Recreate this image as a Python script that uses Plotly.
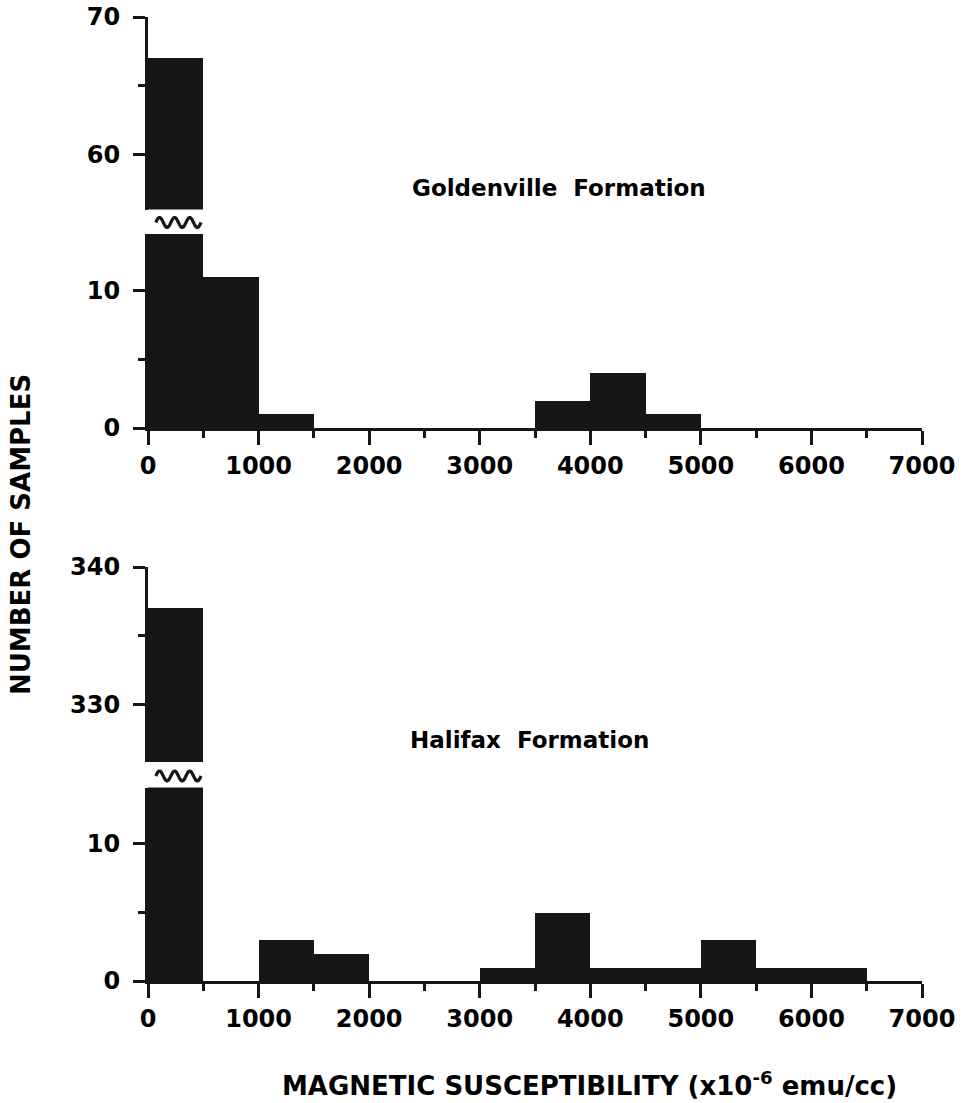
import numpy as np
import plotly.graph_objects as go

# ---------------- data ----------------
bin_left = [0, 500, 1000, 1500, 2000, 2500, 3000, 3500, 4000, 4500, 5000, 5500, 6000, 6500]
bin_width = 500
goldenville_counts = [67, 11, 1, 0, 0, 0, 0, 2, 4, 1, 0, 0, 0, 0]
halifax_counts = [337, 0, 3, 2, 0, 0, 1, 5, 1, 1, 3, 1, 1, 0]
x_tick_vals = [0, 1000, 2000, 3000, 4000, 5000, 6000, 7000]
x_tick_text = ["0", "1000", "2000", "3000", "4000", "5000", "6000", "7000"]
gold_low_ticks = [0, 10]
gold_high_ticks = [60, 70]
hal_low_ticks = [0, 10]
hal_high_ticks = [330, 340]

# ---------------- layout geometry (pixels) ----------------
W, H = 978, 1103
ML, MR, MT, MB = 148, 56, 17, 122
PH = H - MT - MB
PW = W - ML - MR
PX_PER_UNIT = 13.75


def frac(ypx):
    return (H - MB - ypx) / PH


def xfrac(xpx):
    return (xpx - ML) / PW


# top panel
g_low_zero = 428.0
g_low_top = 234.0
g_high_top_val = 70
g_high_bottom = 209.5
# bottom panel
h_low_zero = 981.0
h_low_top = 787.5
h_high_top_val = 340
h_high_top_px = 567.0
h_high_bottom = 762.0

dom_y = [frac(g_low_zero), frac(g_low_top)]
rng_y = [0, (g_low_zero - g_low_top) / PX_PER_UNIT]
dom_y2 = [frac(g_high_bottom), 1.0]
rng_y2 = [g_high_top_val - (g_high_bottom - MT) / PX_PER_UNIT, g_high_top_val]
dom_y3 = [frac(h_low_zero), frac(h_low_top)]
rng_y3 = [0, (h_low_zero - h_low_top) / PX_PER_UNIT]
dom_y4 = [frac(h_high_bottom), frac(h_high_top_px)]
rng_y4 = [h_high_top_val - (h_high_bottom - h_high_top_px) / PX_PER_UNIT, h_high_top_val]

BAR = "#161616"
FONT = "DejaVu Sans"

centers = [b + bin_width / 2 for b in bin_left]

fig = go.Figure()
for xa, ya, counts in [("x", "y", goldenville_counts), ("x", "y2", goldenville_counts),
                       ("x2", "y3", halifax_counts), ("x2", "y4", halifax_counts)]:
    fig.add_trace(go.Bar(x=centers, y=counts, width=bin_width, xaxis=xa, yaxis=ya,
                         marker=dict(color=BAR, line=dict(width=0)),
                         showlegend=False, hoverinfo="x+y"))

tickfont = dict(family=FONT, size=24, color="black", weight="bold")

xcommon = dict(range=[0, 7000], domain=[0, 1], showgrid=False, zeroline=False,
               showline=True, linewidth=3, linecolor=BAR, automargin=False,
               ticks="outside", ticklen=14, tickwidth=2.5, tickcolor=BAR,
               tickvals=x_tick_vals, ticktext=x_tick_text, tickfont=tickfont,
               minor=dict(dtick=500, tick0=0, ticks="outside", ticklen=7, tickwidth=2.5, tickcolor=BAR))


def ycommon(dom, rng, vals, anchor):
    minor_vals = [(vals[0] + vals[1]) / 2]
    return dict(domain=dom, range=rng, anchor=anchor, showgrid=False, zeroline=False,
                showline=True, linewidth=3, linecolor=BAR, automargin=False,
                ticks="outside", ticklen=12, tickwidth=2.5, tickcolor=BAR,
                tickvals=vals, ticktext=[str(v) for v in vals], tickfont=tickfont,
                ticklabelstandoff=8,
                minor=dict(tickvals=minor_vals, ticks="outside", ticklen=7, tickwidth=2.5, tickcolor=BAR))


fig.update_layout(
    width=W, height=H,
    margin=dict(l=ML, r=MR, t=MT, b=MB, autoexpand=False),
    paper_bgcolor="white", plot_bgcolor="white",
    bargap=0,
    xaxis=dict(anchor="y", **xcommon),
    xaxis2=dict(anchor="y3", **xcommon),
    yaxis=ycommon(dom_y, rng_y, gold_low_ticks, "x"),
    yaxis2=ycommon(dom_y2, rng_y2, gold_high_ticks, "x"),
    yaxis3=ycommon(dom_y3, rng_y3, hal_low_ticks, "x2"),
    yaxis4=ycommon(dom_y4, rng_y4, hal_high_ticks, "x2"),
)


# break (wavy) symbols between the axis segments
def wave_path(ycenter_px, amp_px=5.0, x0=70, x1=480, n_waves=3):
    t = np.linspace(0, 1, 121)
    xs = x0 + (x1 - x0) * t
    ys = [frac(ycenter_px - amp_px * np.sin(2 * np.pi * n_waves * tt)) for tt in t]
    return "M " + " L ".join(f"{x:.2f},{y:.5f}" for x, y in zip(xs, ys))


fig.add_shape(type="path", xref="x", yref="paper", path=wave_path(222.5),
              line=dict(color=BAR, width=3.2))
fig.add_shape(type="path", xref="x2", yref="paper", path=wave_path(776),
              line=dict(color=BAR, width=3.2))

labfont = dict(family=FONT, size=23, color="black", weight="bold")
fig.add_annotation(text="Goldenville  Formation", xref="paper", yref="paper",
                   x=xfrac(410), y=frac(188), xanchor="left", yanchor="middle",
                   showarrow=False, font=labfont)
fig.add_annotation(text="Halifax  Formation", xref="paper", yref="paper",
                   x=xfrac(408), y=frac(740), xanchor="left", yanchor="middle",
                   showarrow=False, font=labfont)
fig.add_annotation(text="NUMBER OF SAMPLES", xref="paper", yref="paper",
                   x=xfrac(21), y=frac(535), xanchor="center", yanchor="middle",
                   textangle=-90, showarrow=False,
                   font=dict(family=FONT, size=26, color="black", weight="bold"))
fig.add_annotation(text="MAGNETIC SUSCEPTIBILITY (x10<sup>-6</sup> emu/cc)", xref="paper", yref="paper",
                   x=xfrac(589), y=frac(1084), xanchor="center", yanchor="middle",
                   showarrow=False,
                   font=dict(family=FONT, size=26, color="black", weight="bold"))

fig.write_html("out.html", config={"displayModeBar": False},
               post_script="document.body.style.margin='0';")
